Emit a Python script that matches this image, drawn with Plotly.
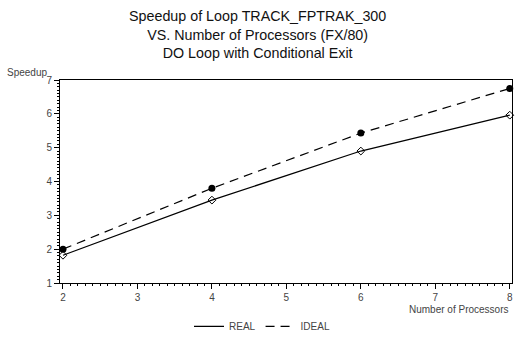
import plotly.graph_objects as go

processors = [2, 4, 6, 8]
real = [1.82, 3.45, 4.9, 5.96]
ideal = [2.0, 3.8, 5.43, 6.75]

title_lines = ["Speedup of Loop TRACK_FPTRAK_300",
               "VS. Number of Processors (FX/80)",
               "DO Loop with Conditional Exit"]

font = "Liberation Sans, Arial, sans-serif"
real_line = dict(color="black", width=1.2)
ideal_line = dict(color="black", width=1.2, dash="9px,6px")

fig = go.Figure()
fig.add_trace(go.Scatter(x=processors, y=real, name="REAL", mode="lines+markers",
                         line=real_line, showlegend=False,
                         marker=dict(symbol="diamond-open", size=6, color="black", line=dict(width=1)),
                         cliponaxis=False))
fig.add_trace(go.Scatter(x=processors, y=ideal, name="IDEAL", mode="lines+markers",
                         line=ideal_line, showlegend=False,
                         marker=dict(symbol="circle", size=7, color="black"),
                         cliponaxis=False))
# legend entries (line samples only, as in the reference)
fig.add_trace(go.Scatter(x=[None], y=[None], name="REAL", mode="lines", line=real_line))
fig.add_trace(go.Scatter(x=[None], y=[None], name="IDEAL", mode="lines", line=ideal_line))

PL, PR, PT, PB = 60, 512, 80, 286
pw, ph = PR - PL, PB - PT

fig.update_layout(
    width=516, height=345,
    margin=dict(l=PL, r=516 - PR, t=PT, b=345 - PB),
    paper_bgcolor="white", plot_bgcolor="white",
    font=dict(family=font, color="#444444", size=10),
    showlegend=True,
    legend=dict(orientation="h", x=(262 - PL) / pw, xanchor="center",
                y=-(330 - PB) / ph, yanchor="middle",
                font=dict(size=10, color="#444444"), itemwidth=30),
)
fig.add_annotation(text="<br>".join(title_lines), xref="paper", yref="paper",
                   x=(257 - PL) / pw, y=1 + (PT - 5) / ph, xanchor="center", yanchor="top",
                   showarrow=False, font=dict(size=14.3, color="#111111", family=font),
                   align="center")
fig.add_annotation(text="Speedup", xref="paper", yref="paper",
                   x=-(PL - 5) / pw, y=1 + (PT - 72) / ph, xanchor="left", yanchor="middle",
                   showarrow=False, font=dict(size=10, color="#444444", family=font))
fig.add_annotation(text="Number of Processors", xref="paper", yref="paper",
                   x=1 - 2 / pw, y=-(313 - PB) / ph, xanchor="right", yanchor="middle",
                   showarrow=False, font=dict(size=10, color="#444444", family=font))

fig.update_xaxes(range=[1.96, 8.03], tickvals=[2, 3, 4, 5, 6, 7, 8], showgrid=False, zeroline=False,
                 showline=True, linecolor="black", linewidth=1, mirror=True,
                 ticks="outside", ticklen=5, tickcolor="black",
                 minor=dict(dtick=0.1, ticks="outside", ticklen=2, tickcolor="black"),
                 tickfont=dict(size=10, color="#444444"))
fig.update_yaxes(range=[1, 7], tickvals=[1, 2, 3, 4, 5, 6, 7], showgrid=False, zeroline=False,
                 showline=True, linecolor="black", linewidth=1, mirror=True,
                 ticks="outside", ticklen=5, tickcolor="black",
                 minor=dict(dtick=0.1, ticks="outside", ticklen=2, tickcolor="black"),
                 tickfont=dict(size=10, color="#444444"))

fig.write_html("out.html", config={"displayModeBar": False},
               post_script="document.body.style.margin='0';")
